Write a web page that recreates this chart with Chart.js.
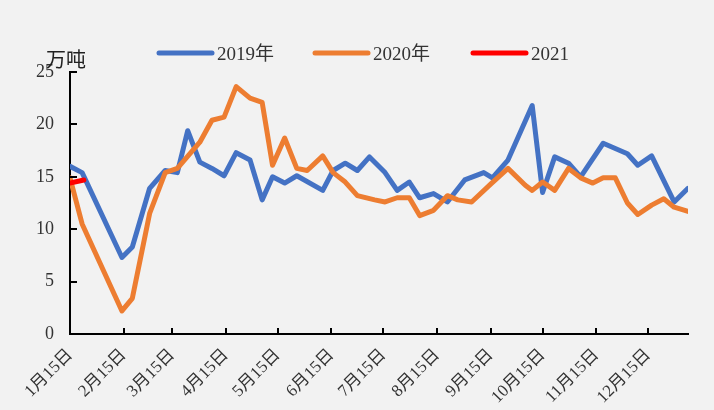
<!DOCTYPE html>
<html><head><meta charset="utf-8">
<script src="https://cdn.jsdelivr.net/npm/chart.js@4/dist/chart.umd.min.js"></script>
<style>html,body{margin:0;padding:0;background:#f2f2f2;}#wrap{width:714px;height:410px;}</style>
</head><body><div id="wrap"><canvas id="c" width="714" height="410"></canvas></div>
<script>
// Day-of-year positions (Jan 15 = 15) and values (万吨)
const days2019 = [15,22,45,51,61,70,77,83,90,97,104,111,119,126,132,139,146,161,167,174,181,188,197,204,211,217,225,233,243,254,259,268,282,288,295,303,310,323,337,343,351,364,372];
const vals2019 = [16.0,15.4,7.3,8.3,13.9,15.6,15.4,19.4,16.4,15.8,15.1,17.3,16.6,12.8,15.0,14.4,15.1,13.7,15.6,16.3,15.6,16.9,15.4,13.7,14.5,13.0,13.4,12.6,14.7,15.4,14.9,16.6,21.8,13.5,16.9,16.3,15.0,18.2,17.2,16.1,17.0,12.6,13.9];
const days2020 = [15,22,45,51,61,70,77,90,97,104,111,119,126,132,139,146,152,161,167,174,181,191,197,204,211,217,225,233,239,247,258,268,278,282,288,295,303,310,317,323,330,337,343,351,358,364,372];
const vals2020 = [14.9,10.5,2.2,3.4,11.5,15.4,15.8,18.3,20.4,20.7,23.6,22.5,22.1,16.1,18.7,15.8,15.6,17.0,15.4,14.5,13.2,12.8,12.6,13.0,13.0,11.3,11.8,13.2,12.8,12.6,14.3,15.8,14.2,13.7,14.5,13.7,15.8,14.9,14.4,14.9,14.9,12.5,11.4,12.3,12.9,12.1,11.7];
const days2021 = [15,23];
const vals2021 = [14.4,14.7];
const seriesNames = ['2019年','2020年','2021'];
const tickDays = [15,46,74,105,135,166,196,227,258,288,319,349];
const tickLabels = ['1月15日','2月15日','3月15日','4月15日','5月15日','6月15日','7月15日','8月15日','9月15日','10月15日','11月15日','12月15日'];
const yTicks = [0,5,10,15,20,25];
const unitLabel = '万吨';

const colors = ['#4472C4','#ED7D31','#FF0000'];
const FONT = "'Liberation Serif','Noto Sans CJK SC',serif";
const pts = (d,v)=>d.map((x,i)=>({x:x,y:v[i]}));

const decor = {
  id:'decor',
  afterDraw(chart){
    const ctx = chart.ctx, a = chart.chartArea, xs = chart.scales.x, ys = chart.scales.y;
    ctx.save();
    ctx.strokeStyle = '#000'; ctx.lineWidth = 2;
    yTicks.forEach(v=>{ if(v===0) return; const y = Math.round(ys.getPixelForValue(v)); ctx.beginPath(); ctx.moveTo(a.left, y); ctx.lineTo(a.left+7, y); ctx.stroke(); });
    tickDays.forEach((d,i)=>{ if(i===0) return; const x = Math.round(xs.getPixelForValue(d)); ctx.beginPath(); ctx.moveTo(x, a.bottom); ctx.lineTo(x, a.bottom-6); ctx.stroke(); });
    // unit label
    ctx.fillStyle = '#222'; ctx.font = "20px " + FONT; ctx.textBaseline='middle'; ctx.textAlign='left';
    ctx.fillText(unitLabel, 46, 62);
    // legend
    const items = [{x:157},{x:313},{x:471}];
    items.forEach((it,i)=>{
      ctx.strokeStyle = colors[i]; ctx.lineWidth = 5; ctx.lineCap='round';
      ctx.beginPath(); ctx.moveTo(it.x+2, 53); ctx.lineTo(it.x+55, 53); ctx.stroke();
      ctx.fillStyle = '#333'; ctx.font = "19px " + FONT; ctx.textBaseline='middle';
      ctx.fillText(seriesNames[i], it.x+60, 55);
    });
    ctx.restore();
  }
};

new Chart(document.getElementById('c'), {
  type:'line',
  data:{ datasets:[
    {label:seriesNames[2], data:pts(days2021,vals2021), borderColor:colors[2], borderWidth:5},
    {label:seriesNames[1], data:pts(days2020,vals2020), borderColor:colors[1], borderWidth:5},
    {label:seriesNames[0], data:pts(days2019,vals2019), borderColor:colors[0], borderWidth:5}
  ]},
  options:{
    responsive:false, animation:false, parsing:true,
    layout:{padding:{top:72,right:26,left:0,bottom:0}},
    elements:{point:{radius:0}, line:{tension:0, borderJoinStyle:'round', borderCapStyle:'round'}},
    plugins:{legend:{display:false}, tooltip:{enabled:false}},
    scales:{
      x:{type:'linear', min:15, max:372,
        afterBuildTicks(s){ s.ticks = tickDays.map(v=>({value:v})); },
        afterFit(s){ s.height = 76; },
        grid:{display:false, drawTicks:false},
        border:{color:'#000', width:2},
        ticks:{minRotation:45, maxRotation:45, autoSkip:false, padding:11, color:'#333',
          font:{family:FONT, size:17},
          callback(v){ const i = tickDays.indexOf(v); return i>=0 ? tickLabels[i] : ''; }}
      },
      y:{min:0, max:25,
        afterBuildTicks(s){ s.ticks = yTicks.map(v=>({value:v})); },
        afterFit(s){ s.width = 70; },
        grid:{display:false, drawTicks:false},
        border:{color:'#000', width:2},
        ticks:{padding:16, color:'#333', font:{family:FONT, size:18}}
      }
    }
  },
  plugins:[decor]
});
</script></body></html>
